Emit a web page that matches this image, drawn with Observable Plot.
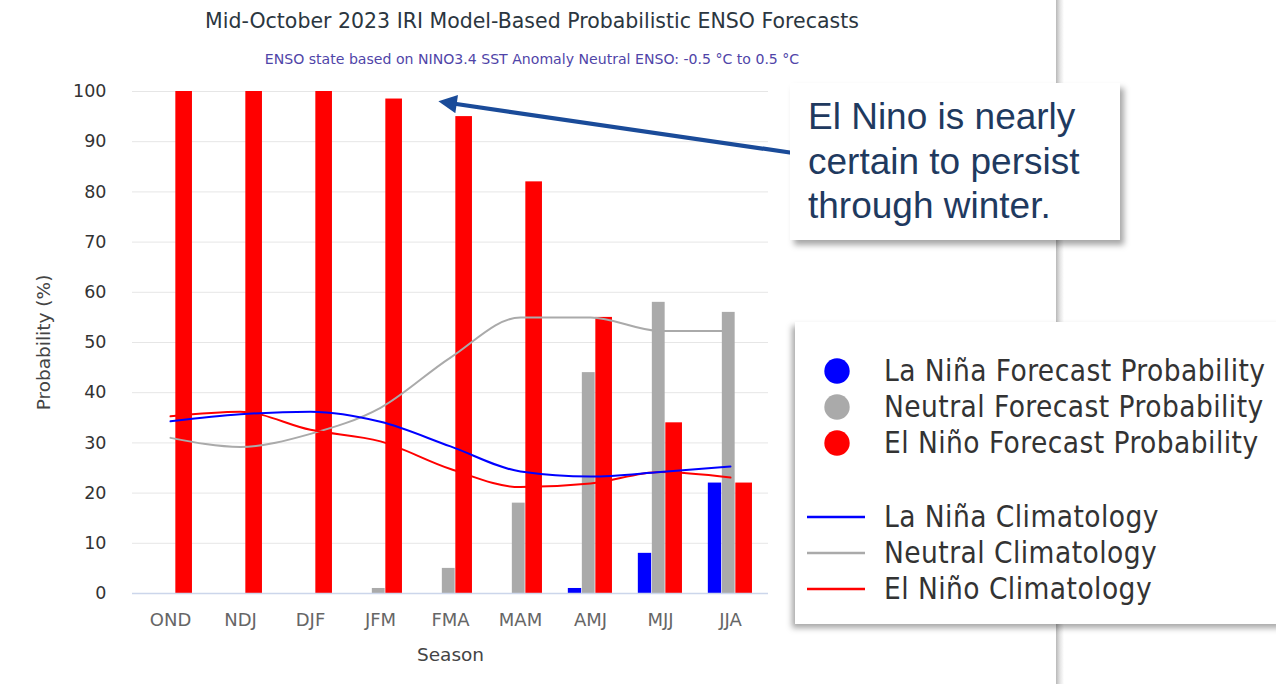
<!DOCTYPE html>
<html><head><meta charset="utf-8">
<script src="https://cdn.jsdelivr.net/npm/d3@7"></script>
<script src="https://cdn.jsdelivr.net/npm/@observablehq/plot@0.6"></script>
<style>
html,body{margin:0;padding:0;background:#fff}
body{width:1276px;height:684px;overflow:hidden;position:relative;font-family:"DejaVu Sans",sans-serif}
#title{position:absolute;left:0;width:1064px;top:9px;text-align:center;font-size:20.5px;color:#2b3640;white-space:nowrap}
#subtitle{position:absolute;left:0;width:1064px;top:51px;text-align:center;font-size:14.1px;color:#4f44a8;white-space:nowrap}
#chart{position:absolute;left:0;top:70px}
#edge{position:absolute;left:1056px;top:0;width:8px;height:684px;background:linear-gradient(to right,#b8b8b8,#e4e4e4 50%,#fff)}
#arrow{position:absolute;left:0;top:0;width:1276px;height:684px;pointer-events:none}
#note{position:absolute;left:790px;top:83px;width:330px;height:157px;background:#fff;box-shadow:4px 5px 6px rgba(0,0,0,0.35);font-family:"Liberation Sans",Arial,sans-serif;font-size:37px;line-height:44.5px;color:#1f3a5f;box-sizing:border-box;padding:12px 0 0 18px}
#legend{position:absolute;left:795px;top:322px;width:490px;height:302px;background:#fff;box-shadow:-3px 4px 6px rgba(0,0,0,0.35);font-family:"DejaVu Sans Condensed","DejaVu Sans",sans-serif;font-size:29.5px;letter-spacing:0.45px;color:#333}
.item{position:absolute;left:89px;white-space:nowrap;line-height:34px}
.sym{position:absolute}
</style></head><body>
<div id="edge"></div>
<div id="title">Mid-October 2023 IRI Model-Based Probabilistic ENSO Forecasts</div>
<div id="subtitle">ENSO state based on NINO3.4 SST Anomaly Neutral ENSO: -0.5 °C to 0.5 °C</div>
<div id="chart"></div>
<svg id="arrow" viewBox="0 0 1276 684">
  <defs><marker id="head" viewBox="0 0 10 10" refX="2" refY="5" markerWidth="5" markerHeight="4.4" orient="auto"><path d="M0,0 L10,5 L0,10 z" fill="#1a4b99"/></marker></defs>
  <line x1="800" y1="154" x2="453" y2="103.5" stroke="#1a4b99" stroke-width="4.2" marker-end="url(#head)"/>
</svg>
<div id="note">El Nino is nearly<br>certain to persist<br>through winter.</div>
<div id="legend"></div>
<script>
const seasons = ["OND","NDJ","DJF","JFM","FMA","MAM","AMJ","MJJ","JJA"];
const laNina  = [0, 0, 0, 0, 0, 0, 1, 8, 22];
const neutral = [0, 0, 0, 1, 5, 18, 44, 58, 56];
const elNino  = [100, 100, 100, 98.5, 95, 82, 55, 34, 22];
const laNinaClim  = [34.3, 35.7, 36.2, 34.2, 29.3, 24.3, 23.3, 24.2, 25.3];
const neutralClim = [31, 29.2, 31.8, 37, 47, 55, 55, 52.3, 52.3];
const elNinoClim  = [35.3, 36.2, 32.6, 30.3, 24.8, 21.2, 21.9, 24.2, 23.1];
const yTicks = [0,10,20,30,40,50,60,70,80,90,100];
const seriesNames = ["La Niña Forecast Probability","Neutral Forecast Probability","El Niño Forecast Probability","La Niña Climatology","Neutral Climatology","El Niño Climatology"];
const colors = ["#0000ff","#aaaaaa","#ff0000"];

const rows = seasons.map((s,i)=>({season:s, laNina:laNina[i], neutral:neutral[i], elNino:elNino[i],
  laNinaClim:laNinaClim[i], neutralClim:neutralClim[i], elNinoClim:elNinoClim[i]}));

const W = 800, H = 600, ML = 132, MR = 32;
const bw = (W - ML - MR) / seasons.length, half = bw / 2;
const place = (l, r) => ({insetLeft: half + l, insetRight: half - r});

const chart = Plot.plot({
  width: W, height: H, marginLeft: ML, marginRight: MR, marginTop: 21, marginBottom: 77,
  style: {fontFamily: "'DejaVu Sans', sans-serif", fontSize: "17px", color: "#333", background: "transparent", overflow: "visible"},
  x: {type: "band", domain: seasons, padding: 0},
  y: {domain: [0, 100]},
  marks: [
    Plot.gridY(yTicks.filter(d => d > 0), {stroke: "#e6e6e6", strokeOpacity: 1}),
    Plot.axisY(yTicks, {tickSize: 0, tickPadding: 26, fontSize: 17.5, fill: "#333", label: "Probability (%)", labelAnchor: "center", labelArrow: "none", labelOffset: 96}),
    Plot.axisX({tickSize: 0, tickPadding: 20, fontSize: 18, fill: "#666", label: "Season", labelAnchor: "center", labelArrow: "none", labelOffset: 67}),
    Plot.barY(rows, {x: "season", y: "laNina", fill: colors[0], ...place(-22.5, -8.5)}),
    Plot.barY(rows, {x: "season", y: "neutral", fill: colors[1], ...place(-8.5, 5)}),
    Plot.barY(rows, {x: "season", y: "elNino", fill: colors[2], ...place(5, 22.3)}),
    Plot.ruleY([0], {stroke: "#ccd6eb", strokeWidth: 1.5}),
    Plot.line(rows, {x: "season", y: "neutralClim", stroke: colors[1], strokeWidth: 2, curve: "monotone-x"}),
    Plot.line(rows, {x: "season", y: "elNinoClim", stroke: colors[2], strokeWidth: 2, curve: "monotone-x"}),
    Plot.line(rows, {x: "season", y: "laNinaClim", stroke: colors[0], strokeWidth: 2, curve: "monotone-x"})
  ]
});
document.getElementById("chart").appendChild(chart);
d3.select(chart).selectAll('[aria-label="y-axis label"] text, [aria-label="x-axis label"] text')
  .attr("font-size", 18.5).attr("fill", "#444");

// legend
const lg = d3.select("#legend");
const rowY = [49, 85, 121, 195, 231, 267];
seriesNames.forEach((name, i) => {
  const c = colors[i % 3];
  const s = lg.append("svg").attr("class", "sym").attr("width", 70).attr("height", 30)
    .style("left", "8px").style("top", (rowY[i] - 15) + "px");
  if (i < 3) s.append("circle").attr("cx", 34).attr("cy", 15).attr("r", 12.7).attr("fill", c);
  else s.append("line").attr("x1", 4).attr("x2", 62).attr("y1", 15).attr("y2", 15).attr("stroke", c).attr("stroke-width", 2.5);
  lg.append("div").attr("class", "item").style("top", (rowY[i] - 17) + "px").text(name);
});
</script>
</body></html>
